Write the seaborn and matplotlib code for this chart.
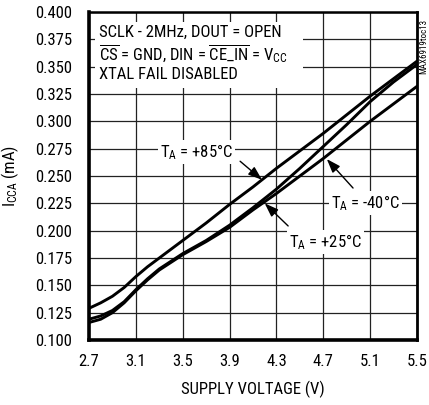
import matplotlib
matplotlib.use("Agg")
import matplotlib.pyplot as plt
import matplotlib.patches as mpatches
import pandas as pd
import seaborn as sns

# Supply voltage (V) and supply current I_CCA (mA)
VOLTAGE = [2.7, 2.8, 2.9, 3.0, 3.1, 3.2, 3.3, 3.5, 3.7, 3.9, 4.1, 4.3, 4.5, 4.7, 4.9, 5.1, 5.3, 5.5]
I_85C = [0.129, 0.134, 0.140, 0.148, 0.158, 0.167, 0.175, 0.191, 0.207, 0.224,
         0.240, 0.257, 0.273, 0.289, 0.306, 0.323, 0.339, 0.355]
I_25C = [0.119, 0.122, 0.127, 0.135, 0.146, 0.156, 0.165, 0.179, 0.191, 0.205,
         0.221, 0.238, 0.257, 0.277, 0.297, 0.318, 0.336, 0.352]
I_M40C = [0.116, 0.119, 0.125, 0.134, 0.145, 0.155, 0.164, 0.178, 0.190, 0.203,
          0.219, 0.234, 0.250, 0.266, 0.283, 0.300, 0.316, 0.332]
TEMPS = ["+85°C", "+25°C", "-40°C"]

X_TICKS = [2.7, 3.1, 3.5, 3.9, 4.3, 4.7, 5.1, 5.5]
Y_TICKS = [0.100, 0.125, 0.150, 0.175, 0.200, 0.225, 0.250, 0.275,
           0.300, 0.325, 0.350, 0.375, 0.400]

CONDITIONS = [
    "SCLK - 2MHz, DOUT = OPEN",
    r"$\overline{\mathrm{CS}}$ = GND, DIN = $\overline{\mathrm{CE\_IN}}$ = V$_{\mathrm{CC}}$",
    "XTAL FAIL DISABLED",
]

# label text centre, arrow tail, arrow tip (data coords)
CALLOUTS = {
    "+85°C": ((3.62, 0.272), (3.99, 0.2635), (4.177, 0.2465)),
    "-40°C": ((5.06, 0.2253), (4.954, 0.239), (4.73, 0.2655)),
    "+25°C": ((4.715, 0.1896), (4.40, 0.2043), (4.20, 0.2250)),
}

FONT = ["Roboto Condensed", "Liberation Sans", "DejaVu Sans"]
FS = 12

sns.set_theme(style="white")
plt.rcParams["font.family"] = FONT
plt.rcParams["mathtext.fontset"] = "custom"
plt.rcParams["mathtext.rm"] = FONT[0]
plt.rcParams["mathtext.it"] = FONT[0]
plt.rcParams["mathtext.bf"] = FONT[0]

df = pd.DataFrame({
    "V": VOLTAGE * 3,
    "I": I_85C + I_25C + I_M40C,
    "temp": [TEMPS[0]] * len(VOLTAGE) + [TEMPS[1]] * len(VOLTAGE) + [TEMPS[2]] * len(VOLTAGE),
})

fig = plt.figure(figsize=(4.29, 4.05), dpi=100)
ax = fig.add_axes([89 / 429, 65 / 405, 328 / 429, 328 / 405])

sns.lineplot(data=df, x="V", y="I", hue="temp", palette=["black"] * 3,
             estimator=None, legend=False, lw=2.1, ax=ax, zorder=4)

ax.set_xlim(2.7, 5.5)
ax.set_ylim(0.1, 0.4)
ax.set_xticks(X_TICKS)
ax.set_xticklabels([f"{t:.1f}" for t in X_TICKS])
ax.set_yticks(Y_TICKS)
ax.set_yticklabels([f"{t:.3f}" for t in Y_TICKS])
ax.tick_params(axis="both", length=0, labelsize=FS, colors="black")
ax.tick_params(axis="y", pad=12)
ax.tick_params(axis="x", pad=10)
ax.grid(True, color="#222222", lw=0.9)
ax.set_axisbelow(True)
for side, w in [("left", 2.6), ("bottom", 2.6), ("top", 1.8), ("right", 2.0)]:
    ax.spines[side].set_visible(True)
    ax.spines[side].set_color("black")
    ax.spines[side].set_linewidth(w)

ax.set_xlabel("SUPPLY VOLTAGE (V)", fontsize=FS, color="black")
ax.set_ylabel(r"I$_{\mathrm{CCA}}$ (mA)", fontsize=FS, color="black")
ax.xaxis.set_label_coords(0.5, -0.125)
ax.yaxis.set_label_coords(-0.207, 0.5)

# white panel holding the test conditions
ax.add_patch(mpatches.Rectangle((0.018, 0.768), 0.634, 0.202, transform=ax.transAxes,
                                facecolor="white", edgecolor="none", zorder=2))
for i, line in enumerate(CONDITIONS):
    ax.text(0.030, 0.938 - i * 0.064, line, transform=ax.transAxes, fontsize=FS,
            ha="left", va="center", color="black", zorder=3)

for temp, (txt, tail, tip) in CALLOUTS.items():
    ax.text(txt[0], txt[1], r"T$_{\mathrm{A}}$ = " + temp, fontsize=FS, ha="center",
            va="center", color="black", zorder=3,
            bbox=dict(facecolor="white", edgecolor="none", pad=1.5))
    ax.annotate("", xy=tip, xytext=tail, zorder=5,
                arrowprops=dict(arrowstyle="-|>,head_length=0.7,head_width=0.25",
                                color="black", lw=1.0, shrinkA=0, shrinkB=0))

fig.text(424 / 429, 1 - 46 / 405, "MAX6919toc13", rotation=90, fontsize=6.5,
         ha="center", va="center", color="black")

fig.savefig("out.png", dpi=100)
